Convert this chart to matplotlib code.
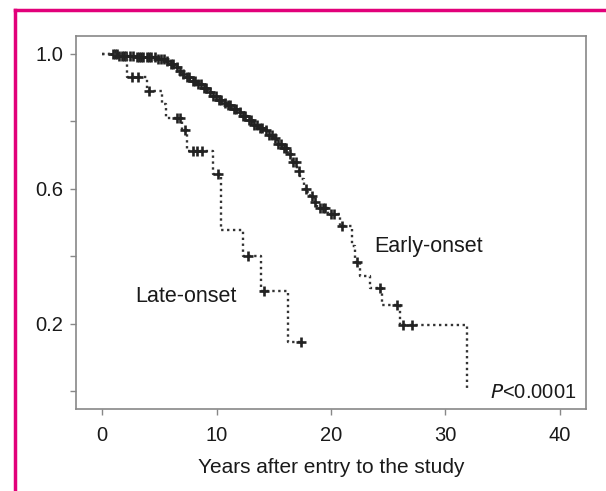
import numpy as np
import matplotlib
matplotlib.use("Agg")
import matplotlib.pyplot as plt
from matplotlib.lines import Line2D

plt.rcParams['font.family'] = ['Liberation Sans', 'DejaVu Sans']

# ---- data ----
early_t = [0, 1.5, 3.0, 4.8, 5.5, 5.9, 6.3, 6.6, 7.0, 7.3, 7.7, 8.2, 8.8, 9.2, 9.6,
           10.0, 10.5, 10.9, 11.3, 11.8, 12.2, 12.7, 13.2, 13.7, 14.1, 14.5, 14.9,
           15.3, 15.7, 16.2, 16.6, 17.0, 17.3, 17.6, 17.9, 18.2, 18.5, 18.8, 19.7,
           20.8, 21.8, 22.1, 22.5, 23.4, 24.5, 26.0, 31.9]
early_S = [1.0, 0.995, 0.99, 0.985, 0.98, 0.97, 0.96, 0.95, 0.94, 0.93, 0.92, 0.91,
           0.90, 0.886, 0.875, 0.863, 0.855, 0.848, 0.838, 0.827, 0.815, 0.803, 0.788,
           0.78, 0.773, 0.76, 0.75, 0.734, 0.72, 0.704, 0.68, 0.654, 0.63, 0.60, 0.59,
           0.579, 0.56, 0.543, 0.525, 0.49, 0.43, 0.382, 0.34, 0.305, 0.254, 0.195, 0.0]
early_cens = [0.9, 1.1, 1.3, 1.5, 1.7, 1.9, 2.1, 2.4, 2.7, 3.0, 3.2, 3.4, 3.6, 3.9,
              4.1, 4.3, 4.6, 4.9, 5.1, 5.4, 5.7, 6.0, 6.2, 6.5, 6.8, 7.1, 7.4, 7.6,
              7.9, 8.1, 8.4, 8.6, 8.9, 9.1, 9.4, 9.7, 9.9, 10.2, 10.4, 10.7, 11.0,
              11.2, 11.5, 11.7, 12.0, 12.3, 12.5, 12.8, 13.0, 13.3, 13.5, 13.8, 14.0,
              14.3, 14.6, 14.8, 15.1, 15.4, 15.6, 15.9, 16.1, 16.4, 16.7, 16.9, 17.2,
              17.8, 18.3, 18.6, 19.0, 19.3, 19.5, 20.0, 20.3, 21.0, 22.3, 24.3, 25.8,
              26.3, 27.1]

late_t = [0, 2.2, 3.9, 5.2, 5.6, 7.0, 7.4, 9.7, 10.4, 12.3, 13.9, 16.2]
late_S = [1.0, 0.93, 0.89, 0.85, 0.81, 0.773, 0.713, 0.645, 0.478, 0.40, 0.298, 0.146]
late_cens = [2.6, 3.1, 4.1, 6.5, 6.8, 7.2, 7.9, 8.3, 8.7, 10.1, 12.7, 14.1, 17.4]
late_end = 17.4

x_ticks = [0, 10, 20, 30, 40]
y_ticks = [0.0, 0.2, 0.4, 0.6, 0.8, 1.0]
y_labels = ['', '0.2', '', '0.6', '', '1.0']

# ---- figure ----
fig = plt.figure(figsize=(6.06, 4.91), dpi=100)
ax = fig.add_axes([76/606, 1-409/491, (586-76)/606, (409-36)/491])

def surv_at(ts, ss, t):
    idx = np.searchsorted(ts, t, side='right') - 1
    return ss[idx]

line_kw = dict(color='#333333', lw=1.7, ls=(0, (1, 1.5)), dash_capstyle='butt')
mk_kw = dict(marker='+', ls='none', color='#222222', ms=7, mew=1.9)

# early-onset
ax.step(early_t, early_S, where='post', **line_kw)
ax.plot(early_cens, [surv_at(early_t, early_S, c) for c in early_cens], **mk_kw)

# late-onset
lt = late_t + [late_end]
ls_ = late_S + [late_S[-1]]
ax.step(lt, ls_, where='post', **line_kw)
ax.plot(late_cens, [surv_at(late_t, late_S, c) for c in late_cens], **mk_kw)

ax.set_xlim(-2.3, 42.3)
ax.set_ylim(-0.053, 1.053)
ax.set_xticks(x_ticks)
ax.set_xticklabels([str(v) for v in x_ticks])
ax.set_yticks(y_ticks)
ax.set_yticklabels(y_labels)
ax.tick_params(direction='out', length=4, width=1, color='#888888',
               labelsize=14.5, labelcolor='#1a1a1a')
ax.tick_params(axis='x', pad=8.5)
ax.tick_params(axis='y', pad=5)
for s in ax.spines.values():
    s.set_color('#888888')
    s.set_linewidth(1.2)

ax.set_xlabel('Years after entry to the study', fontsize=15, color='#1a1a1a', labelpad=9)

ax.text(23.8, 0.43, 'Early-onset', fontsize=15.5, color='#1a1a1a', va='center', ha='left')
ax.text(2.9, 0.28, 'Late-onset', fontsize=15.5, color='#1a1a1a', va='center', ha='left')
ax.text(41.5, -0.005, r'$\it{P}$<0.0001', fontsize=14.5, color='#1a1a1a', va='center', ha='right')

# magenta frame
mag = '#E2007A'
fig.add_artist(Line2D([15/606, 15/606], [0, 1-10/491], color=mag, lw=2.5, transform=fig.transFigure))
fig.add_artist(Line2D([15/606, 1], [1-10/491, 1-10/491], color=mag, lw=2.5, transform=fig.transFigure))

fig.savefig('out.png', dpi=100)
